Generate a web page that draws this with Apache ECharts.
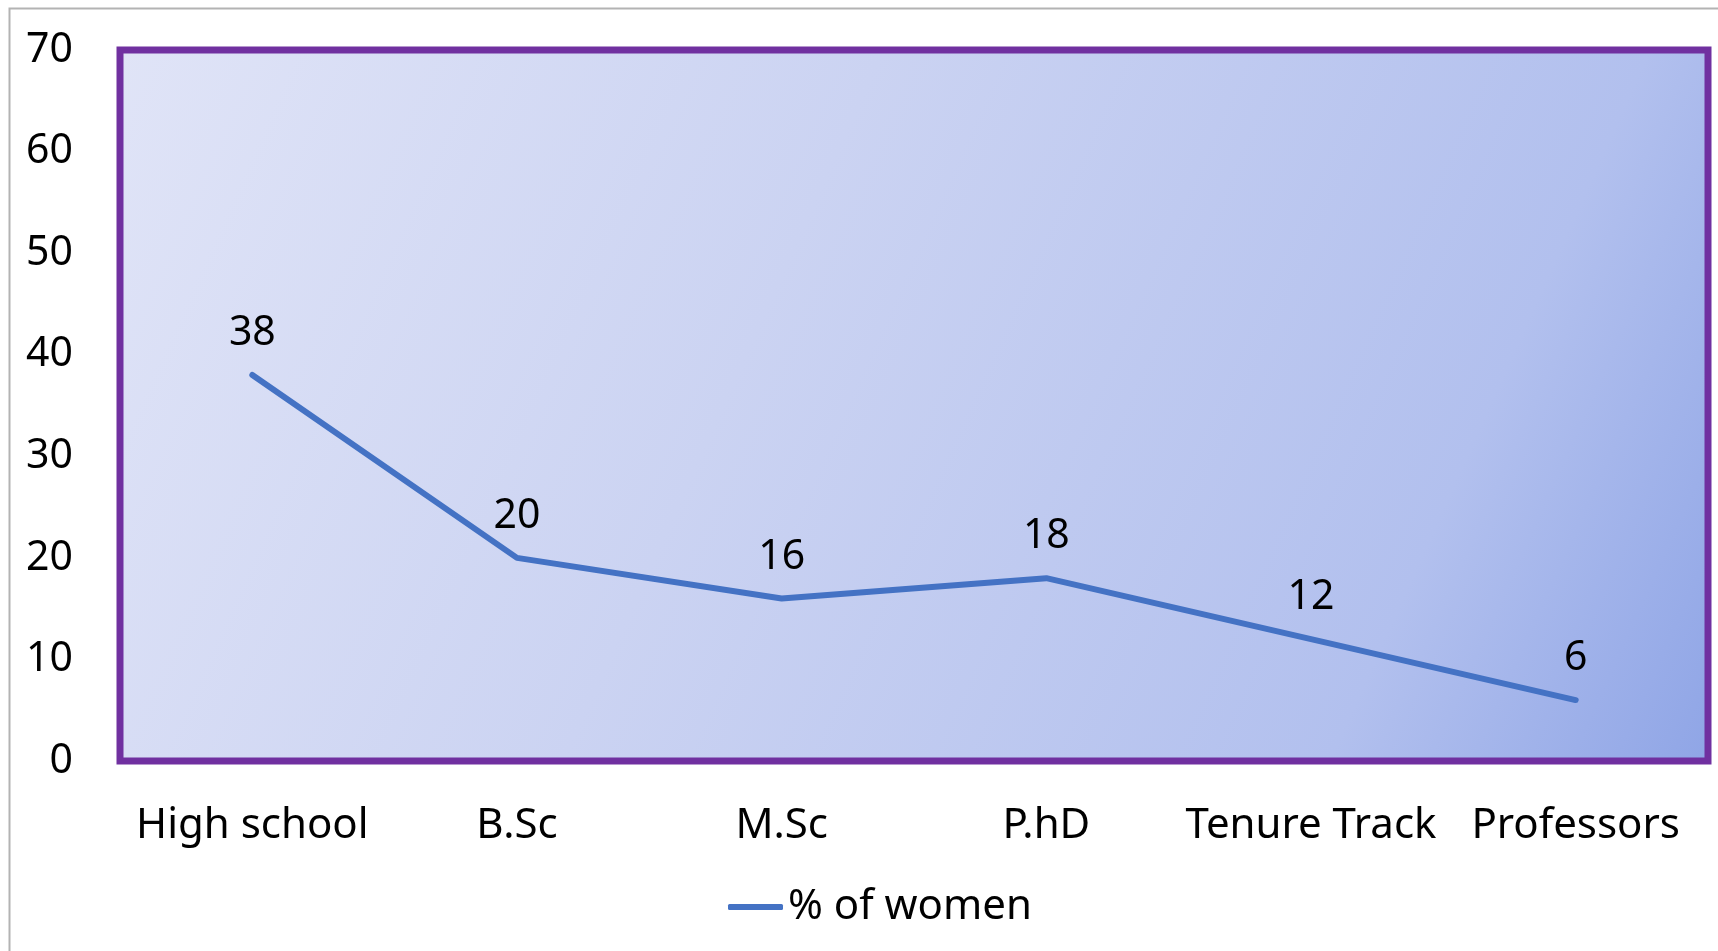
<!DOCTYPE html>
<html>
<head>
<meta charset="utf-8">
<script src="https://cdn.jsdelivr.net/npm/echarts@6/dist/echarts.min.js"></script>
<style>
html,body{margin:0;padding:0;background:#fff;}
#chart{width:1718px;height:951px;}
</style>
</head>
<body>
<div id="chart"></div>
<script>
const categories = ['High school', 'B.Sc', 'M.Sc', 'P.hD', 'Tenure Track', 'Professors'];
const womenPct = [38, 20, 16, 18, 12, 6];
const seriesName = '% of women';
const yMin = 0, yMax = 70, yInterval = 10;

const chart = echarts.init(document.getElementById('chart'), null, {renderer: 'canvas'});
const font = '"Noto Sans", "Open Sans", sans-serif';
chart.setOption({
  animation: false,
  backgroundColor: '#ffffff',
  graphic: [{
    type: 'rect',
    shape: {x: 9.5, y: 8.5, width: 1730, height: 960},
    style: {fill: 'none', stroke: '#b3b3b3', lineWidth: 2},
    z: -1
  }],
  grid: {
    left: 120, top: 50, right: 10, bottom: 190,
    show: true,
    borderColor: '#7030a0',
    borderWidth: 7,
    backgroundColor: new echarts.graphic.LinearGradient(0, 0, 1, 1, [
      {offset: 0, color: '#e0e4f7'},
      {offset: 0.4, color: '#cbd3f2'},
      {offset: 0.8, color: '#b2c0ee'},
      {offset: 1, color: '#8fa5e6'}
    ])
  },
  legend: {
    data: [{name: seriesName, icon: 'roundRect'}],
    bottom: 18,
    left: 723,
    itemWidth: 55,
    itemHeight: 6,
    textStyle: {fontFamily: font, fontSize: 42, color: '#000'}
  },
  xAxis: {
    type: 'category',
    data: categories,
    boundaryGap: true,
    axisLine: {show: false},
    axisTick: {show: false},
    axisLabel: {fontFamily: font, fontSize: 42, color: '#000', margin: 44, interval: 0}
  },
  yAxis: {
    type: 'value',
    min: yMin, max: yMax, interval: yInterval,
    axisLine: {show: false},
    axisTick: {show: false},
    splitLine: {show: false},
    axisLabel: {fontFamily: font, fontSize: 41, color: '#000', margin: 47}
  },
  series: [{
    name: seriesName,
    type: 'line',
    data: womenPct,
    symbol: 'circle',
    symbolSize: 0,
    showSymbol: true,
    itemStyle: {color: '#4472c4'},
    lineStyle: {color: '#4472c4', width: 6, cap: 'round', join: 'round'},
    label: {
      show: true,
      position: 'top',
      distance: 21,
      fontFamily: font,
      fontSize: 41,
      color: '#000'
    }
  }]
});
</script>
</body>
</html>
